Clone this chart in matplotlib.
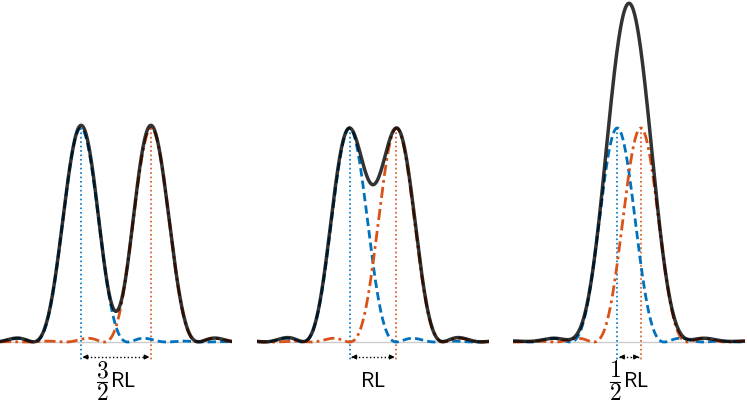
import numpy as np
import matplotlib
matplotlib.use('Agg')
import matplotlib.pyplot as plt

plt.rcParams['mathtext.fontset'] = 'cm'

# separations between the two point sources, in Rayleigh lengths (RL)
separacoes = [1.5, 1.0, 0.5]
# label of each separation: (numerator, denominator) of the fraction, or None
fracoes = [('3', '2'), None, ('1', '2')]

# first zero of J1 -> one Rayleigh length
V_RL = 3.8317
meia_largura = 2.47  # half width of each panel, in RL

azul = '#0072BD'
laranja = '#D95319'


def bessel_j1(v):
    tau = np.linspace(0, np.pi, 400)
    integrando = np.cos(tau[None, :] - v[:, None] * np.sin(tau[None, :]))
    return np.trapezoid(integrando, tau, axis=1) / np.pi


def airy(x):
    v = V_RL * np.asarray(x, dtype=float)
    v = np.where(np.abs(v) < 1e-9, 1e-9, v)
    return (2 * bessel_j1(v) / v) ** 2


fig = plt.figure(figsize=(7.47, 4.04), dpi=100)
esquerdas = [0, 257, 513]
largura = 232
y_base = 342
px_unidade = 214
px_rl = largura / (2 * meia_largura)
y_min = -(404 - y_base) / px_unidade
y_max = y_base / px_unidade


def py(p):
    # pixel row -> data y
    return -(p - y_base) / px_unidade


x = np.linspace(-meia_largura, meia_largura, 800)

for esq, sep, fracao in zip(esquerdas, separacoes, fracoes):
    ax = fig.add_axes([esq / 747, 0, largura / 747, 1])
    ax.set_xlim(-meia_largura, meia_largura)
    ax.set_ylim(y_min, y_max)
    ax.axis('off')

    x1, x2 = -sep / 2, sep / 2
    i1 = airy(x - x1)
    i2 = airy(x - x2)

    ax.axhline(0, color='#cccccc', lw=1, zorder=0)
    ax.plot(x, i1, color=azul, lw=2, ls=(0, (3, 1.5)), zorder=2)
    ax.plot(x, i2, color=laranja, lw=2, ls=(0, (4, 1.5, 1, 1.5)), zorder=2)
    ax.plot(x, i1 + i2, color='black', alpha=0.8, lw=2.5, zorder=3)

    ax.plot([x1, x1], [1, py(360)], color=azul, lw=1.2, ls=':', zorder=1)
    ax.plot([x2, x2], [1, py(360)], color=laranja, lw=1.2, ls=':', zorder=1)

    y_seta = py(357)
    d = 0.04
    ax.plot([x1 + d, x2 - d], [y_seta, y_seta], color='black', lw=1, ls=':')
    for xa, sinal in [(x1 + d, 1), (x2 - d, -1)]:
        ax.annotate('', xy=(xa, y_seta), xytext=(xa + sinal * 0.12, y_seta),
                    arrowprops=dict(arrowstyle='-|>', color='black', lw=0.8,
                                    shrinkA=0, shrinkB=0, mutation_scale=7))

    if fracao is None:
        ax.text(0, py(381), r'$\mathsf{RL}$', ha='center', va='center', fontsize=15)
    else:
        num, den = fracao
        xf = -14 / px_rl
        ax.text(xf, py(370), f'${num}$', ha='center', va='center', fontsize=17)
        ax.plot([xf - 5 / px_rl, xf + 5 / px_rl], [py(382), py(382)],
                color='black', lw=0.8)
        ax.text(xf, py(393.5), f'${den}$', ha='center', va='center', fontsize=17)
        ax.text(-6 / px_rl, py(381), r'$\mathsf{RL}$', ha='left', va='center',
                fontsize=15)

fig.savefig('out.png', dpi=100)
